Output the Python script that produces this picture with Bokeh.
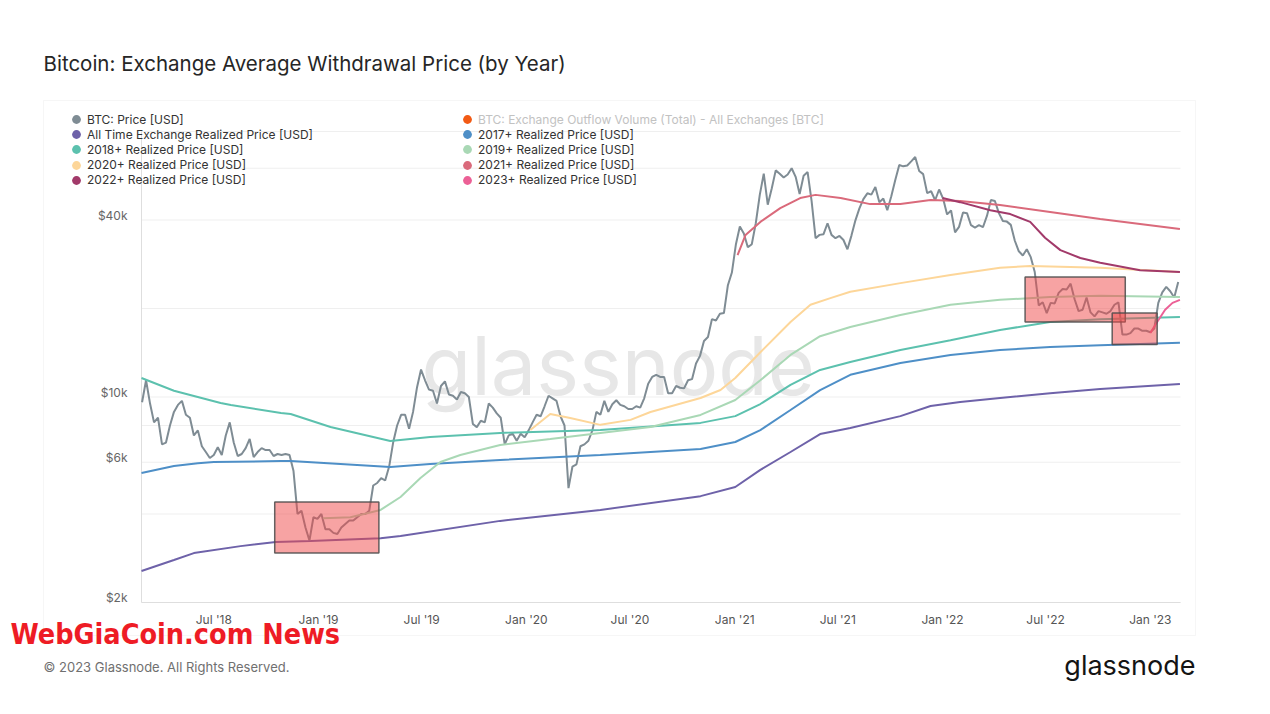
import math
import pandas as pd
from bokeh.plotting import figure
from bokeh.models import Range1d, Label, Legend, LegendItem, BoxAnnotation, ColumnDataSource
from bokeh.core.properties import value
from bokeh.embed import file_html
from bokeh.resources import INLINE

FONT = "Inter"

# ---------------- data ----------------
x_start = "2018-02-24"
x_end = "2023-02-23"

btc_week_start = "2018-02-25"   # weekly samples
btc_price = [
    # 2018
    9600, 11400, 9500, 8200, 8500, 6900, 7000, 8000, 8900, 9400,
    9700, 8700, 8500, 7400, 7700, 6800, 6500, 6200, 6350, 6750,
    6350, 7400, 8200, 7000, 6300, 6400, 6700, 7200, 6250, 6500,
    6700, 6600, 6600, 6300, 6400, 6350, 6400, 6350, 5600, 4000,
    4100, 3600, 3250, 3900, 3850,
    # 2019
    4000, 3550, 3550, 3450, 3420, 3600, 3700, 3800, 3800, 3900,
    4000, 4000, 4100, 5000, 5100, 5300, 5200, 5800, 7000, 8000,
    8700, 8700, 7800, 8900, 10800, 12400, 11400, 10600, 10500, 9500,
    10900, 11300, 10200, 10100, 9800, 10400, 10300, 10000, 8100, 7900,
    8300, 8200, 9500, 9200, 8800, 8500, 6900, 7400, 7500, 7100,
    7500, 7300,
    # 2020
    7700, 8200, 8700, 8600, 9300, 10100, 9900, 9700, 8600, 8000,
    4900, 5800, 5900, 6800, 6900, 7100, 7700, 8900, 8700, 9700,
    8900, 9450, 9750, 9400, 9300, 9100, 9100, 9300, 9200, 9900,
    11100, 11700, 11900, 11700, 11700, 10300, 10300, 10900, 10750, 10700,
    11400, 11500, 13000, 13800, 15500, 16000, 18400, 18200, 19200, 19300,
    24000, 26500,
    # 2021
    33000, 38000, 36000, 32300, 33100, 39000, 48700, 57500, 45100, 51200,
    59000, 57500, 55800, 57100, 60000, 56100, 49000, 56600, 58200, 46500,
    34700, 35600, 35800, 39000, 35600, 34700, 35300, 34200, 31800, 35400,
    39900, 43800, 47100, 49300, 48800, 51800, 46000, 47300, 43200, 48200,
    54700, 61500, 60900, 61300, 63300, 65500, 58700, 57300, 49400, 50100,
    46700, 50800,
    # 2022
    47300, 41800, 43100, 36300, 37900, 42400, 42200, 38400, 37700, 38400,
    37800, 41300, 46800, 46400, 42200, 39700, 39500, 38500, 34000, 31300,
    30300, 31800, 29900, 26600, 20500, 21000, 19300, 20900, 20800, 22600,
    23300, 23200, 24300, 21500, 19600, 19800, 21800, 19400, 18800, 19600,
    19400, 19200, 19600, 20600, 21000, 16300, 16300, 16500, 17100, 17100,
    16800, 16800,
    # 2023
    16600, 17100, 20900, 22700, 23700, 22900, 21800, 24600,
]

all_time_dates = ["2018-02-24", "2018-04-22", "2018-05-27", "2018-08-17", "2018-10-18",
                  "2018-12-18", "2019-04-20", "2019-05-25", "2019-11-16", "2020-05-10",
                  "2020-11-02", "2021-01-02", "2021-02-15", "2021-04-09", "2021-05-31",
                  "2021-07-23", "2021-10-19", "2021-12-11", "2022-02-01", "2022-04-12",
                  "2022-07-09", "2022-10-05", "2023-02-22"]
all_time_values = [2560, 2790, 2945, 3110, 3215, 3240, 3310, 3365, 3790, 4130,
                   4600, 4940, 5650, 6500, 7480, 7850, 8610, 9320, 9620, 9920,
                   10300, 10650, 11070]

r2017_dates = ["2018-02-24", "2018-04-22", "2018-06-03", "2018-07-01", "2018-10-27",
               "2018-11-13", "2019-05-07", "2019-07-16", "2019-11-16", "2020-05-10",
               "2020-11-02", "2021-01-02", "2021-02-15", "2021-04-09", "2021-05-31",
               "2021-07-23", "2021-10-19", "2022-01-15", "2022-04-12", "2022-07-09",
               "2022-10-05", "2023-02-22"]
r2017_values = [5515, 5825, 5950, 6010, 6055, 6055, 5780, 5915, 6105, 6350,
                6655, 7030, 7720, 9030, 10560, 11900, 13060, 13900, 14450, 14800,
                15000, 15300]

r2018_dates = ["2018-02-24", "2018-04-22", "2018-07-13", "2018-07-31", "2018-10-27",
               "2018-11-13", "2019-01-22", "2019-05-07", "2019-07-16", "2019-11-16",
               "2020-05-10", "2020-11-02", "2021-01-02", "2021-02-15", "2021-04-09",
               "2021-05-31", "2021-07-23", "2021-10-19", "2022-01-15", "2022-04-12",
               "2022-07-09", "2022-10-05", "2023-02-22"]
r2018_values = [11600, 10500, 9540, 9390, 8830, 8750, 7910, 7085, 7310, 7550,
                7725, 8165, 8610, 9465, 10990, 12360, 13150, 14450, 15600, 16900,
                18000, 18400, 18700]

r2019_dates = ["2019-01-09", "2019-02-26", "2019-04-20", "2019-05-25", "2019-06-29",
               "2019-08-03", "2019-09-07", "2019-11-16", "2020-02-12", "2020-05-10",
               "2020-08-06", "2020-11-02", "2021-01-02", "2021-02-15", "2021-04-09",
               "2021-05-31", "2021-07-23", "2021-10-19", "2022-01-15", "2022-04-12",
               "2022-07-09", "2022-10-05", "2023-02-22"]
r2019_values = [3870, 3900, 4130, 4570, 5300, 6010, 6350, 6870, 7200, 7550,
                7910, 8690, 9770, 11400, 13900, 16100, 17300, 19000, 20600, 21400,
                21900, 22100, 21900]

r2020_dates = ["2020-01-08", "2020-02-12", "2020-03-18", "2020-05-10", "2020-07-02",
               "2020-08-06", "2020-11-02", "2020-12-07", "2021-01-02", "2021-02-15",
               "2021-04-09", "2021-05-14", "2021-06-18", "2021-07-23", "2021-10-19",
               "2022-01-15", "2022-04-12", "2022-06-04", "2022-10-05", "2023-02-22"]
r2020_values = [7720, 8750, 8490, 8040, 8360, 8890, 9920, 10560, 11600, 14200,
                18000, 20600, 21700, 22800, 24400, 26000, 27500, 27900, 27500, 26600]

r2021_dates = ["2021-01-06", "2021-01-20", "2021-02-15", "2021-03-22", "2021-04-26",
               "2021-05-23", "2021-07-06", "2021-08-27", "2021-10-19", "2021-12-11",
               "2022-02-01", "2022-04-12", "2022-07-09", "2022-10-05", "2023-02-22"]
r2021_values = [30400, 35600, 39400, 43900, 47500, 48700, 47500, 45300, 45300, 46800,
                46400, 45000, 42600, 40300, 37300]

r2022_dates = ["2022-01-01", "2022-02-01", "2022-03-26", "2022-04-30", "2022-06-04",
               "2022-06-30", "2022-07-27", "2022-08-31", "2022-10-05", "2022-12-14",
               "2023-02-22"]
r2022_values = [47500, 46000, 43200, 41900, 39400, 34800, 31600, 29700, 28600, 27000, 26600]

r2023_dates = ["2023-01-01", "2023-01-13", "2023-01-27", "2023-02-09", "2023-02-22"]
r2023_values = [16500, 18000, 19800, 20900, 21400]

# highlighted zones
box_left = ["2018-10-16", "2022-05-26", "2022-10-26"]
box_right = ["2019-04-17", "2022-11-18", "2023-01-13"]
box_bottom = [2945, 18000, 15100]
box_top = [4390, 25600, 19300]

x_tick_dates = ["2018-07-01", "2019-01-01", "2019-07-01", "2020-01-01", "2020-07-01",
                "2021-01-01", "2021-07-01", "2022-01-01", "2022-07-01", "2023-01-01"]
y_tick_values = [2000, 6000, 10000, 40000]
y_grid_values = [2000, 4000, 6000, 8000, 10000, 20000, 40000, 60000, 80000]

legend_names = ["BTC: Price [USD]",
                "BTC: Exchange Outflow Volume (Total) - All Exchanges [BTC]",
                "All Time Exchange Realized Price [USD]", "2017+ Realized Price [USD]",
                "2018+ Realized Price [USD]", "2019+ Realized Price [USD]",
                "2020+ Realized Price [USD]", "2021+ Realized Price [USD]",
                "2022+ Realized Price [USD]", "2023+ Realized Price [USD]"]
legend_colors = ["#7f8c94", "#f25a14", "#6e62a9", "#4e8fc7", "#5cc1ae", "#a9d8b5",
                 "#fdd699", "#da6a7b", "#a23a6a", "#ec6096"]

# ---------------- layout (pixels) ----------------
W, H = 1270, 714
PL, PR, PT, PB = 141, 1180, 131, 602     # plot area inside the canvas

def to_ms(s):
    return pd.Timestamp(s).value / 1e6

xs_ms, xe_ms = to_ms(x_start), to_ms(x_end)
ms_per_px = (xe_ms - xs_ms) / (PR - PL)
x_range = Range1d(xs_ms - PL * ms_per_px, xe_ms + (W - PR) * ms_per_px)

ylo, yhi = math.log10(y_grid_values[0]), math.log10(y_grid_values[-1])
dec_per_px = (yhi - ylo) / (PB - PT)
y_range = Range1d(10 ** (ylo - (H - PB) * dec_per_px), 10 ** (yhi + PT * dec_per_px))

p = figure(width=W, height=H, x_axis_type="datetime", y_axis_type="log",
           x_axis_location=None, y_axis_location=None,
           x_range=x_range, y_range=y_range, min_border=0,
           output_backend="svg", toolbar_location=None)
p.title.visible = False
p.outline_line_color = None
p.grid.visible = False
p.background_fill_color = "white"
p.border_fill_color = "white"

def dt(lst):
    return pd.to_datetime(lst)

# panel border
p.add_layout(BoxAnnotation(left=43, right=1195, top=H - 100, bottom=H - 635,
                           left_units="screen", right_units="screen",
                           top_units="screen", bottom_units="screen",
                           fill_alpha=0, line_color="#e2e2e2", line_width=1,
                           level="underlay"))

# watermark
p.add_layout(Label(x=421, y=H - 365, x_units="screen", y_units="screen", text="glassnode",
                   text_font=FONT, text_font_size="81px", text_color="#e7e7e7",
                   text_baseline="middle", level="underlay"))

# grid lines and axis lines (drawn through the scales)
n = len(y_grid_values)
p.segment(x0=dt([x_start] * n), x1=dt([x_end] * n), y0=y_grid_values, y1=y_grid_values,
          line_color="#efefef", line_width=1)
p.segment(x0=dt([x_start]), x1=dt([x_end]), y0=[y_grid_values[0]], y1=[y_grid_values[0]],
          line_color="#dedede", line_width=1)
p.segment(x0=dt([x_start]), x1=dt([x_start]), y0=[y_grid_values[0]], y1=[y_grid_values[-1]],
          line_color="#dedede", line_width=1)

# tick labels
y_tick_labels = ["$%dk" % (v // 1000) for v in y_tick_values]
p.text(x=dt([x_start] * len(y_tick_values)), y=y_tick_values, text=y_tick_labels,
       x_offset=-14, y_offset=-5, text_align="right", text_baseline="middle",
       text_font=value(FONT), text_font_size=value("12px"), text_color="#666666")
x_tick_labels = [pd.Timestamp(d).strftime("%b '%y") for d in x_tick_dates]
p.text(x=dt(x_tick_dates), y=[y_grid_values[0]] * len(x_tick_dates), text=x_tick_labels,
       y_offset=17, text_align="center", text_baseline="middle",
       text_font=value(FONT), text_font_size=value("12px"), text_color="#555555")

# series
btc_dates = pd.date_range(btc_week_start, periods=len(btc_price), freq="7D")
p.line(btc_dates, btc_price, line_color=legend_colors[0], line_width=2)
series = [(all_time_dates, all_time_values, legend_colors[2]),
          (r2017_dates, r2017_values, legend_colors[3]),
          (r2018_dates, r2018_values, legend_colors[4]),
          (r2019_dates, r2019_values, legend_colors[5]),
          (r2020_dates, r2020_values, legend_colors[6]),
          (r2021_dates, r2021_values, legend_colors[7]),
          (r2022_dates, r2022_values, legend_colors[8]),
          (r2023_dates, r2023_values, legend_colors[9])]
for d, v, c in series:
    p.line(dt(d), v, line_color=c, line_width=2)

p.quad(left=dt(box_left), right=dt(box_right), bottom=box_bottom, top=box_top,
       fill_color="#f04848", fill_alpha=0.5, line_color="#4a4a4a", line_width=1.5,
       line_alpha=0.85)

# legend dot renderers: zero-size markers on each series' first point
# (the legend draws its own dot size from the glyph box)
first_points = [(btc_dates[0], btc_price[0]), (btc_dates[0], btc_price[0])] + \
               [(pd.Timestamp(d[0]), v[0]) for d, v, c in series]
dots = []
for (fx, fy), c in zip(first_points, legend_colors):
    src = ColumnDataSource(data=dict(x=[fx], y=[fy]))
    dots.append(p.scatter(x="x", y="y", source=src, marker="circle", size=0,
                          fill_color=c, line_color=c, line_alpha=0, line_width=0))

# two-column legend, one row per item (row pitch 15.2 px)
GLYPH = 22
for i, name in enumerate(legend_names):
    col, row = i % 2, i // 2
    cx = 76 if col == 0 else 467          # dot centre (px)
    cy = 119 + 15.2 * row                 # row centre (px)
    color = "#c2c2c2" if i == 1 else "#333333"
    lg = Legend(items=[LegendItem(label=name, renderers=[dots[i]])],
                location=(cx - GLYPH / 2, H - (cy + GLYPH / 2)),
                glyph_height=GLYPH, glyph_width=GLYPH, label_standoff=0,
                spacing=0, padding=0, margin=0, label_height=GLYPH,
                label_text_font=FONT, label_text_font_size="12px", label_text_color=color,
                border_line_color=None, background_fill_alpha=0)
    p.add_layout(lg)

# texts outside the plot area
p.add_layout(Label(x=43, y=H - 63, x_units="screen", y_units="screen",
                   text="Bitcoin: Exchange Average Withdrawal Price (by Year)",
                   text_font=FONT, text_font_size="20.5px", text_color="#262626",
                   text_baseline="middle"))
p.add_layout(Label(x=43, y=H - 666, x_units="screen", y_units="screen",
                   text="\u00a9 2023 Glassnode. All Rights Reserved.",
                   text_font=FONT, text_font_size="13px", text_color="#707070",
                   text_baseline="middle"))
p.add_layout(Label(x=1195, y=H - 665, x_units="screen", y_units="screen", text="glassnode",
                   text_font=FONT, text_font_size="27px", text_color="#141414",
                   text_align="right", text_baseline="middle"))
p.add_layout(Label(x=10, y=H - 634, x_units="screen", y_units="screen",
                   text="WebGiaCoin.com News", text_font="DejaVu Sans Condensed",
                   text_font_style="bold", text_font_size="28.5px", text_color="#ee1c25",
                   text_baseline="middle"))

open("out.html", "w").write(file_html(p, INLINE))
